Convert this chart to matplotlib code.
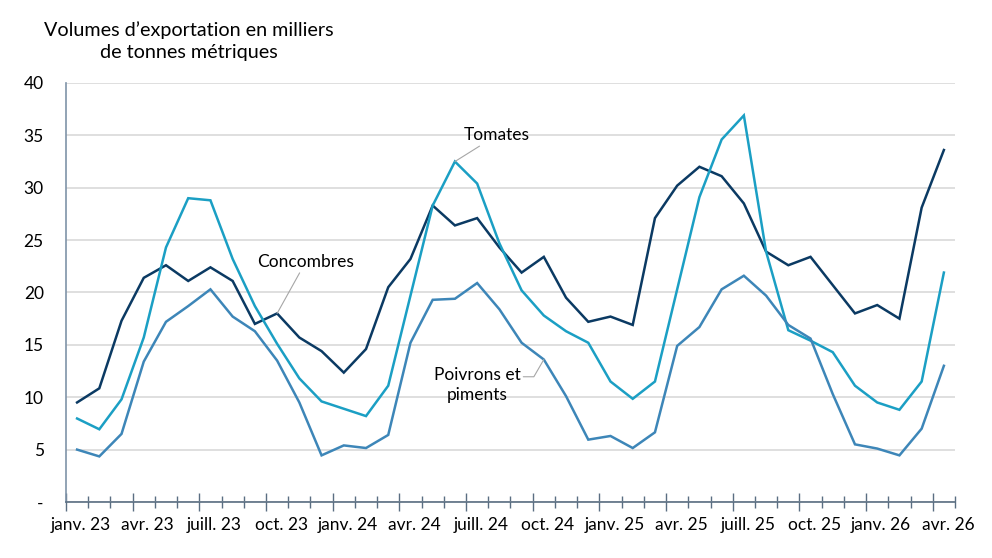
import numpy as np
import matplotlib
matplotlib.use("Agg")
import matplotlib.pyplot as plt
import matplotlib.transforms as mtransforms
from matplotlib.ticker import FixedLocator, FuncFormatter

# monthly data, janv. 2023 -> avr. 2026 (thousand metric tonnes)
mois = ["janv.", "févr.", "mars", "avr.", "mai", "juin",
        "juill.", "août", "sept.", "oct.", "nov.", "déc."]
annees = ["23", "24", "25", "26"]

concombres = [9.5, 10.85, 17.3, 21.4, 22.6, 21.1, 22.4, 21.1, 17.0, 18.0,
              15.7, 14.4, 12.35, 14.6, 20.5, 23.2, 28.3, 26.4, 27.1, 24.3,
              21.9, 23.4, 19.5, 17.2, 17.7, 16.9, 27.1, 30.2, 32.0, 31.1,
              28.5, 23.9, 22.6, 23.4, 20.7, 18.0, 18.8, 17.5, 28.1, 33.6]
tomates = [7.97, 6.94, 9.8, 15.7, 24.3, 29.0, 28.8, 23.2, 18.7, 15.1,
           11.8, 9.6, 8.9, 8.2, 11.1, 19.7, 28.3, 32.5, 30.4, 24.7,
           20.2, 17.8, 16.3, 15.2, 11.5, 9.85, 11.5, 20.3, 29.1, 34.6,
           36.9, 23.9, 16.4, 15.4, 14.3, 11.1, 9.5, 8.8, 11.5, 21.9]
poivrons = [5.0, 4.35, 6.5, 13.4, 17.2, 18.7, 20.3, 17.7, 16.3, 13.5,
            9.5, 4.45, 5.4, 5.15, 6.4, 15.2, 19.3, 19.4, 20.9, 18.4,
            15.2, 13.6, 10.1, 5.95, 6.3, 5.15, 6.65, 14.9, 16.7, 20.3,
            21.6, 19.7, 16.9, 15.6, 10.3, 5.5, 5.1, 4.45, 7.0, 13.0]

labels = []
for a in annees:
    for m in mois:
        labels.append(m + " " + a)
labels = labels[:len(concombres)]

plt.rcParams['font.family'] = ['Lato', 'DejaVu Sans']

fig = plt.figure(figsize=(9.92, 5.58), dpi=100)
ax = fig.add_axes([0.0665, 0.1004, 0.8962, 0.7509])

x = np.arange(len(concombres))
ax.plot(x, concombres, color='#0b3a63', lw=1.8, solid_joinstyle='miter')
ax.plot(x, tomates, color='#1b9fc4', lw=1.8, solid_joinstyle='miter')
ax.plot(x, poivrons, color='#3d86b8', lw=1.8, solid_joinstyle='miter')

ax.set_xlim(-0.5, len(x) - 0.5)
ax.set_ylim(0, 40)

# y axis
ax.set_yticks(np.arange(0, 41, 5))
ax.yaxis.set_major_formatter(FuncFormatter(lambda v, p: '-' if v == 0 else '%d' % v))
ax.tick_params(axis='y', length=0, pad=16, labelsize=12.5)
ax.grid(axis='y', color='#d9d9d9', lw=1.2)
ax.set_axisbelow(True)

# x axis: ticks between categories, longer every quarter
bounds = np.arange(-0.5, len(x), 1.0)
ax.xaxis.set_major_locator(FixedLocator(bounds[::3]))
ax.xaxis.set_minor_locator(FixedLocator(bounds))
ax.xaxis.set_major_formatter(FuncFormatter(lambda v, p: ''))
ax.tick_params(axis='x', which='major', direction='inout', length=13, width=1, color='#5a6e82')
ax.tick_params(axis='x', which='minor', direction='inout', length=8, width=1, color='#5a6e82')

off = mtransforms.ScaledTranslation(4 / 100, 0, fig.dpi_scale_trans)
for i in range(0, len(x), 3):
    ax.text(i, -0.035, labels[i], transform=ax.get_xaxis_transform() + off,
            ha='center', va='top', fontsize=12.5)

for s in ['top', 'right']:
    ax.spines[s].set_visible(False)
ax.spines['left'].set_color('#7f93a8')
ax.spines['bottom'].set_color('#5a6e82')
ax.spines['left'].set_linewidth(1.2)
ax.spines['bottom'].set_linewidth(1.2)

# title
fig.text(189 / 992, 1 - 41 / 558, 'Volumes d\u2019exportation en milliers\nde tonnes métriques',
         ha='center', va='center', fontsize=14.2, linespacing=1.3)

# series labels with leader lines
ax.annotate('Concombres', xy=(9, concombres[9]), xytext=(10.3, 22.9),
            ha='center', va='center', fontsize=12.5,
            arrowprops=dict(arrowstyle='-', color='#a6a6a6', lw=0.8, shrinkA=0, shrinkB=0,
                            relpos=(0.45, 0)))
ax.annotate('Tomates', xy=(17, tomates[17]), xytext=(18.9, 35.0),
            ha='center', va='center', fontsize=12.5,
            arrowprops=dict(arrowstyle='-', color='#a6a6a6', lw=0.8, shrinkA=0, shrinkB=0,
                            relpos=(0.3, 0)))
ax.annotate('Poivrons et\npiments', xy=(21, poivrons[21]), xytext=(18.0, 11.2),
            ha='center', va='center', fontsize=12.5, linespacing=1.3,
            arrowprops=dict(arrowstyle='-', color='#a6a6a6', lw=0.8, shrinkA=0, shrinkB=0,
                            relpos=(1.0, 0.72),
                            connectionstyle='angle,angleA=0,angleB=60,rad=0'))

fig.savefig('out.png', dpi=100)
